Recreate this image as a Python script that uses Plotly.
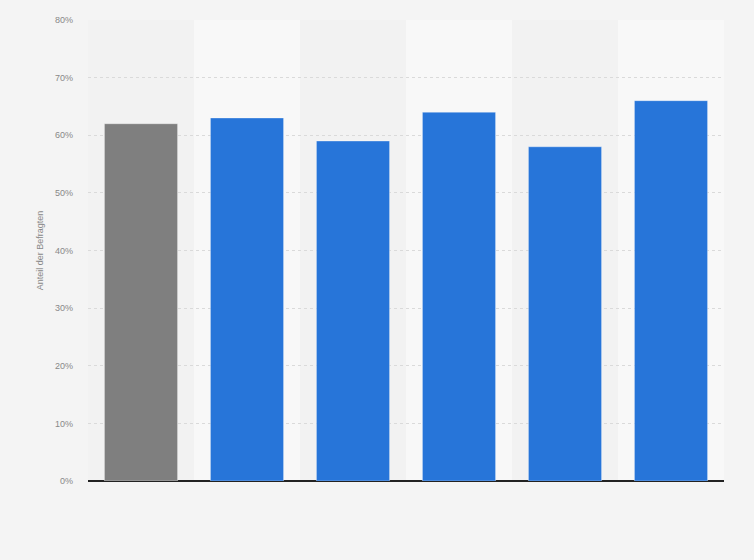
import plotly.graph_objects as go

# Data (share of respondents, %)
categories = ["A", "B", "C", "D", "E", "F"]
values = [62, 63, 59, 64, 58, 66]
bar_colors = ["#7f7f7f", "#2775d9", "#2775d9", "#2775d9", "#2775d9", "#2775d9"]
y_ticks = [0, 10, 20, 30, 40, 50, 60, 70, 80]

fig = go.Figure()

fig.add_trace(go.Bar(
    x=categories,
    y=values,
    marker=dict(color=bar_colors, line=dict(color="rgba(255,255,255,0.35)", width=1)),
    width=0.69,
    hoverinfo="y"
))

# Alternating column bands behind the bars
for i in range(len(categories)):
    fig.add_shape(
        type="rect", xref="x", yref="paper",
        x0=i - 0.5, x1=i + 0.5, y0=0, y1=1,
        fillcolor="#f2f2f2" if i % 2 == 0 else "#f8f8f8",
        line=dict(width=0), layer="below"
    )

fig.update_layout(
    width=754, height=560,
    margin=dict(l=88, r=30, t=20, b=79),
    paper_bgcolor="#f4f4f4",
    plot_bgcolor="#f4f4f4",
    font=dict(family="Liberation Sans, Arial, sans-serif", size=10, color="#666666"),
    showlegend=False,
    bargap=0.31,
    xaxis=dict(
        showticklabels=False, showgrid=False, zeroline=False,
        showline=False, ticks="", range=[-0.5, len(categories) - 0.5]
    ),
    yaxis=dict(
        range=[0, 80], tickvals=y_ticks, ticktext=[f"{v}%" for v in y_ticks],
        showgrid=True, gridcolor="#dadada", griddash="dot", gridwidth=1,
        zeroline=True, zerolinecolor="#222222", zerolinewidth=1.5,
        tickfont=dict(size=9, color="#888888"), ticks="", ticklabelstandoff=14,
        title=dict(text="Anteil der Befragten", font=dict(size=9, color="#888888"), standoff=9)
    )
)

# Remove the default page margin so the figure fills the window
fig.write_html("out.html", config={"displayModeBar": False},
               post_script="document.body.style.margin='0';")
